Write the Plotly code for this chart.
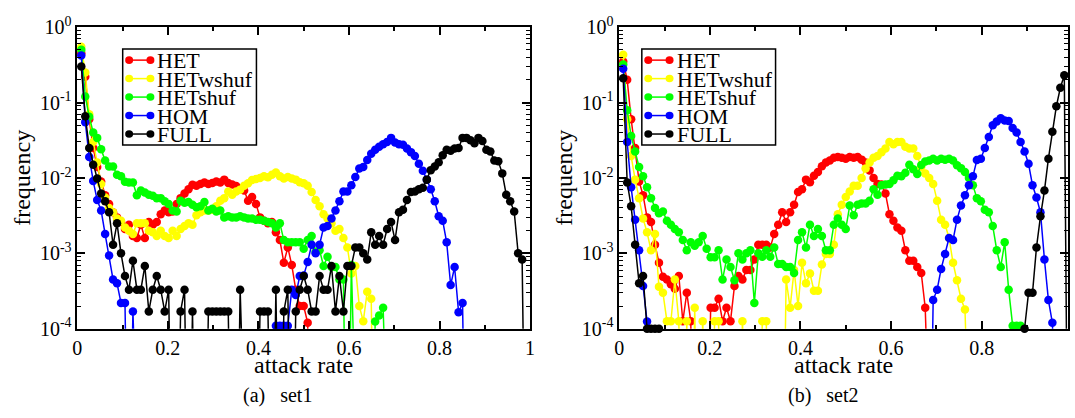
import plotly.graph_objects as go

W, H = 1075, 418
BIN = 114  # histogram bin width = 1/114 of the attack rate
rate = [k / BIN for k in range(1, 114)]

names = ["HET", "HETwshuf", "HETshuf", "HOM", "FULL"]
colors = ["#ff0000", "#ffff00", "#00ff00", "#0000ff", "#000000"]

# ---------------- set1 (left panel) ----------------
het_set1 = [0.45, 0.22, 0.06, 0.025, 0.014, 0.009, 0.0059, 0.0045, 0.0035, 0.003,
            0.0026, 0.0021, 0.0024, 0.0017, 0.0016, 0.0024, 0.0016, 0.0026, 0.0024, 0.0026,
            0.0033, 0.0037, 0.0035, 0.0036, 0.0045, 0.0054, 0.0062, 0.0071, 0.0081, 0.0079,
            0.0083, 0.0087, 0.0083, 0.0086, 0.009, 0.0087, 0.0095, 0.0086, 0.0082, 0.0078,
            0.0072, 0.0068, 0.005, 0.0056, 0.0045, 0.003, 0.0027, 0.0025, 0.0026, 0.0019,
            0.0015, 0.00075, 0.0012, 0.0007, 0.00033, 0.0002, 0.0002, 0.00012] + [0] * 55
hetw_set1 = [0.55, 0.25, 0.07, 0.03, 0.016, 0.0083, 0.0055, 0.004, 0.0035, 0.0029,
             0.0027, 0.0022, 0.002, 0.0018, 0.0025, 0.0025, 0.0025, 0.002, 0.0019, 0.0017,
             0.002, 0.0017, 0.0016, 0.002, 0.0017, 0.0021, 0.0023, 0.0025, 0.0024, 0.0032,
             0.0035, 0.0037, 0.0037, 0.0038, 0.0042, 0.005, 0.0054, 0.0066, 0.006, 0.0066,
             0.007, 0.0079, 0.0085, 0.0094, 0.0097, 0.01, 0.0105, 0.0102, 0.011, 0.0118,
             0.0105, 0.0098, 0.0103, 0.0098, 0.0095, 0.0088, 0.0085, 0.0079, 0.0065, 0.0051,
             0.0042, 0.0033, 0.0029, 0.0025, 0.002, 0.0021, 0.0016, 0.0012, 0.00054, 0.00068,
             0.0002, 0.000126, 0.00031, 0.00025] + [0] * 39
hets_set1 = [0.5, 0.12, 0.065, 0.04, 0.034, 0.024, 0.017, 0.0142, 0.0142, 0.011,
             0.0105, 0.0089, 0.0087, 0.0087, 0.0059, 0.0068, 0.0064, 0.006, 0.0058, 0.0054,
             0.0054, 0.0049, 0.0045, 0.0037, 0.0036, 0.005, 0.0047, 0.0048, 0.0044, 0.0041,
             0.0042, 0.0048, 0.0037, 0.0039, 0.0036, 0.0037, 0.003, 0.0031, 0.003, 0.003,
             0.0031, 0.003, 0.0029, 0.0029, 0.0028, 0.0028, 0.0027, 0.0026, 0.0025, 0.0022,
             0.0025, 0.0015, 0.0014, 0.0014, 0.0014, 0.0014, 0.00115, 0.0015, 0.0017, 0.00105,
             0.0011, 0.00068, 0.0009, 0.00066, 0.00066, 0.00045, 0.00045, 0, 0.0007, 0,
             0, 0, 0, 0, 0.000125, 0.00015, 0.00019] + [0] * 36
hom_set1 = ([0.42, 0.055, 0.019, 0.0091, 0.0051, 0.0037, 0.0018, 0.00094, 0.00045, 0.0004,
             0.00022, 0.00022, 0, 0.00017] + [0] * 35 +
            [0.00011, 0.00011, 0.00011, 0.00011,
             0.00033, 0.00028, 0.0005, 0.00051, 0.00077, 0.0013, 0.001,
             0.0013, 0.0022, 0.0023, 0.0029, 0.0037, 0.0049, 0.0066, 0.0066, 0.008, 0.0103,
             0.0133, 0.014, 0.0173, 0.021, 0.0237, 0.026, 0.028, 0.030, 0.034, 0.0295,
             0.028, 0.0275, 0.0245, 0.022, 0.0195, 0.0154, 0.0125, 0.0095, 0.0071, 0.0049,
             0.0031, 0.0027, 0.0014, 0.00038, 0.00066, 0.000165, 0.00022] + [0] * 16)
full_set1 = [0.30, 0.066, 0.025, 0.015, 0.0098, 0.0062, 0.0049, 0.0035, 0.0013, 0.0025,
             0.001, 0.0005, 0.00033, 0.0008, 0.00033, 0.00033, 0.00068, 0.00017, 0.00033, 0.0005,
             0.00033, 0.00017, 0.00033, 0, 0, 0.00017, 0.00033, 0, 0.00017, 0,
             0, 0, 0.00017, 0.00017, 0.00017, 0.00017, 0.00017, 0.00017, 0, 0,
             0.00033, 0, 0, 0, 0, 0.00017, 0.00017, 0.00017, 0, 0.00033,
             0, 0.00017, 0.00033, 0, 0.00017, 0.00033, 0.0005, 0.00033, 0.00017, 0.00017,
             0.0005, 0.00033, 0.00033, 0.00068, 0.00017, 0.0005, 0.00017, 0.00068, 0.00068, 0.0012,
             0.0012, 0.001, 0.00083, 0.0019, 0.0013, 0.0017, 0.0013, 0.0021, 0.0026, 0.0015,
             0.0035, 0.0038, 0.0051, 0.0065, 0.0066, 0.0071, 0.0074, 0.0095, 0.0127, 0.0142,
             0.0162, 0.02, 0.0237, 0.023, 0.0245, 0.025, 0.034, 0.034, 0.0316, 0.0288,
             0.034, 0.031, 0.0237, 0.0225, 0.017, 0.0166, 0.0115, 0.006, 0.0049, 0.0036,
             0.001, 0.00083, 0]

# ---------------- set2 (right panel) ----------------
het_set2 = [0.35, 0.2, 0.06, 0.025, 0.009, 0.0059, 0.003, 0.0026, 0.0013, 0.00075,
            0.00049, 0.00045, 0.00039, 0.00034, 0.0005, 0.000126, 0.0003, 0.000126, 0, 0,
            0, 0, 0.00019, 0.00019, 0.00025, 0.000126, 0.00019, 0.000126, 0.00037, 0.0005,
            0.00045, 0.0006, 0.0006, 0.00083, 0.0013, 0.0013, 0.0013, 0.0012, 0.0018, 0.0024,
            0.0035, 0.0026, 0.0035, 0.0044, 0.0065, 0.0071, 0.0095, 0.0088, 0.0107, 0.012,
            0.0143, 0.016, 0.017, 0.0185, 0.019, 0.0185, 0.018, 0.019, 0.0185, 0.019,
            0.0175, 0.016, 0.0126, 0.01, 0.0083, 0.0082, 0.0062, 0.0033, 0.0027, 0.0022,
            0.002, 0.0011, 0.0008, 0.0008, 0.00066, 0.00055, 0.00019] + [0] * 36
hetw_set2 = [0.43, 0.06, 0.0195, 0.0095, 0.0054, 0.0029, 0.0019, 0.0011, 0.0018, 0.00036,
             0.0003, 0.000126, 0.000126, 0.00045, 0.000126, 0, 0.000126, 0, 0.00019, 0,
             0.000126, 0, 0, 0.000126, 0.000126, 0, 0, 0, 0, 0,
             0.000126, 0, 0, 0, 0, 0.000126, 0.000126, 0, 0, 0,
             0, 0.00045, 0.00019, 0.0006, 0.0002, 0.00075, 0.0004, 0.00054, 0.00032, 0.00032,
             0.00071, 0.00098, 0.00098, 0.0013, 0.0033, 0.0044, 0.0056, 0.0066, 0.0079, 0.0079,
             0.01, 0.0133, 0.016, 0.0185, 0.0195, 0.022, 0.0245, 0.030, 0.028, 0.03,
             0.03, 0.026, 0.0245, 0.0245, 0.0195, 0.014, 0.0115, 0.01, 0.0083, 0.005,
             0.0028, 0.0024, 0.0016, 0.00075, 0.00044, 0.00025, 0.00018] + [0] * 26
hets_set2 = [0.32, 0.079, 0.036, 0.0225, 0.014, 0.0105, 0.0075, 0.0054, 0.004, 0.0034,
             0.0036, 0.0027, 0.0024, 0.0021, 0.0019, 0.0015, 0.0011, 0.0014, 0.00126, 0.0014,
             0.0017, 0.00115, 0.00089, 0.00089, 0.0011, 0.00045, 0.00083, 0.00066, 0.00044, 0.001,
             0.00083, 0.001, 0.0011, 0.00022, 0.001, 0.0009, 0.0011, 0.0009, 0.0012, 0.00072,
             0.00072, 0.00066, 0.00066, 0.00055, 0.0015, 0.0019, 0.0012, 0.0024, 0.0017, 0.0021,
             0.0017, 0.0011, 0.0011, 0.0024, 0.0029, 0.0024, 0.0021, 0.0043, 0.0032, 0.0044,
             0.0046, 0.0046, 0.005, 0.0071, 0.006, 0.008, 0.0082, 0.0083, 0.0093, 0.0107,
             0.0105, 0.0117, 0.015, 0.013, 0.0113, 0.0148, 0.0165, 0.017, 0.018, 0.017,
             0.018, 0.0175, 0.018, 0.017, 0.0147, 0.0135, 0.012, 0.01, 0.008, 0.0054,
             0.0049, 0.0038, 0.0035, 0.0023, 0.0011, 0.00066, 0.0014, 0.00033, 0.00011, 0.00011,
             0.00011] + [0] * 12
hom_set2 = ([0.28, 0.03, 0.0075, 0.0028, 0.0011, 0.00037, 0.000125] + [0] * 71 +
            [0.00024, 0.00033, 0.00062, 0.00098, 0.0016, 0.0015, 0.0028, 0.0043, 0.0059, 0.008,
             0.0105, 0.0173, 0.018, 0.025, 0.035, 0.05, 0.056, 0.062, 0.058, 0.057,
             0.046, 0.04, 0.030, 0.0225, 0.0154, 0.008, 0.0055, 0.0035, 0.00083, 0.00024,
             0.00012] + [0] * 4)
full_set2 = ([0.21, 0.0087, 0.0042, 0.0013, 0.0004, 0.0005, 0.0001, 0.0001, 0.0001, 0.0001]
             + [0] * 91 +
             [0.0001, 0.0003, 0.0003, 0.0012, 0.0031, 0.0068, 0.018, 0.041, 0.089, 0.157,
              0.23, 0])

set1 = [het_set1, hetw_set1, hets_set1, hom_set1, full_set1]
set2 = [het_set2, hetw_set2, hets_set2, hom_set2, full_set2]

y_ticks = [1e-4, 1e-3, 1e-2, 1e-1, 1]
y_ticktext = ["10<sup>-4</sup>", "10<sup>-3</sup>", "10<sup>-2</sup>", "10<sup>-1</sup>", "10<sup>0</sup>"]
x_range1 = [0, 1]
x_range2 = [0, 0.99]

FLOOR = 1e-7  # empty bins: drawn below the axis like the original
FONT = "Liberation Serif, Times New Roman, serif"


def plot_y(vals):
    return [v if v > 0 else FLOOR for v in vals]


def msize(vals):
    return [8.5 if v > 0 else 0 for v in vals]


fig = go.Figure()
for xa, ya, series in (("x", "y", set1), ("x2", "y2", set2)):
    for name, color, vals in zip(names, colors, series):
        fig.add_trace(go.Scatter(
            x=rate, y=plot_y(vals), mode="lines+markers", name=name, showlegend=False,
            line=dict(color=color, width=1.5), opacity=1,
            marker=dict(color=color, size=msize(vals), opacity=1, line=dict(width=0)),
            xaxis=xa, yaxis=ya, cliponaxis=False))

PL = [(73, 530), (620, 1072.7)]
PT, PB = 15, 335


def px(X):
    return X / W


def py(Y):
    return 1 - Y / H


axis_common = dict(showline=True, linecolor="black", linewidth=1.5, mirror="allticks",
                   ticks="inside", tickcolor="black", tickwidth=1.5, ticklen=8,
                   showgrid=False, zeroline=False,
                   tickfont=dict(family=FONT, size=20, color="black"))

xcommon = dict(axis_common, dtick=0.2, tick0=0,
               minor=dict(ticks="inside", ticklen=4, dtick=0.1, tickwidth=1.5, tickcolor="black"))
ycommon = dict(axis_common, type="log", range=[-4, 0], tickmode="array",
               tickvals=y_ticks, ticktext=y_ticktext,
               minor=dict(ticks="inside", ticklen=4, dtick="D1", tickwidth=1, tickcolor="black"))

fig.update_layout(
    width=W, height=H, autosize=False,
    margin=dict(l=0, r=0, t=0, b=0),
    paper_bgcolor="white", plot_bgcolor="white",
    xaxis=dict(xcommon, domain=[px(PL[0][0]), px(PL[0][1])], range=x_range1, anchor="y"),
    yaxis=dict(ycommon, domain=[py(PB), py(PT)], anchor="x"),
    xaxis2=dict(xcommon, domain=[px(PL[1][0]), px(PL[1][1])], range=x_range2, anchor="y2"),
    yaxis2=dict(ycommon, domain=[py(PB), py(PT)], anchor="x2"),
)

annotations = []
shapes = []
for i, (left, right) in enumerate(PL):
    cx = (left + right) / 2
    annotations.append(dict(text="attack rate", x=px(cx), y=py(373), xref="paper", yref="paper",
                            showarrow=False, font=dict(family=FONT, size=24, color="black"),
                            xanchor="center", yanchor="middle", height=24, valign="middle"))
    annotations.append(dict(text="frequency", x=px(left - 56), y=py(175), xref="paper", yref="paper",
                            showarrow=False, textangle=-90, font=dict(family=FONT, size=24, color="black"),
                            xanchor="center", yanchor="middle"))
captions = [("(a)\u00a0\u00a0\u00a0set1", 275), ("(b)\u00a0\u00a0\u00a0set2", 826)]
for text, cx in captions:
    annotations.append(dict(text=text, x=px(cx), y=py(406), xref="paper", yref="paper",
                            showarrow=False, font=dict(family=FONT, size=20, color="black"),
                            xanchor="center", yanchor="middle"))

# legend boxes (drawn like the original: line with a marker at each end)
for bx in (118.8, 642.8):
    shapes.append(dict(type="rect", xref="paper", yref="paper",
                       x0=px(bx), x1=px(bx + 135), y0=py(140), y1=py(38.3),
                       line=dict(color="black", width=1.5), fillcolor="white"))
    for j, (name, color) in enumerate(zip(names, colors)):
        yc = 50 + j * 19.6
        x0, x1 = bx + 6.5, bx + 28
        shapes.append(dict(type="line", xref="paper", yref="paper",
                           x0=px(x0), x1=px(x1), y0=py(yc), y1=py(yc),
                           line=dict(color=color, width=1.5)))
        for xm in (x0, x1):
            shapes.append(dict(type="circle", xref="paper", yref="paper",
                               x0=px(xm - 4), x1=px(xm + 4), y0=py(yc + 4), y1=py(yc - 4),
                               line=dict(color=color, width=0), fillcolor=color))
        annotations.append(dict(text=name, x=px(bx + 33), y=py(yc), xref="paper", yref="paper",
                                showarrow=False, font=dict(family=FONT, size=22, color="black"),
                                xanchor="left", yanchor="middle", height=18, valign="middle"))

fig.update_layout(annotations=annotations, shapes=shapes)
fig.write_html("out.html")
